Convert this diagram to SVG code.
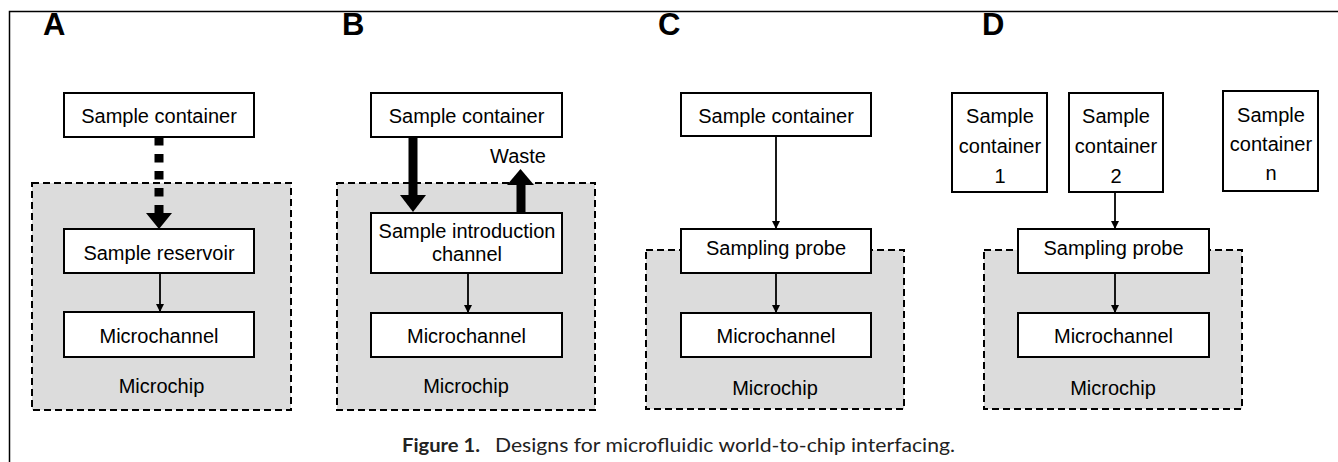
<svg xmlns="http://www.w3.org/2000/svg" width="1338" height="462" viewBox="0 0 1338 462">
<style>
  .box { fill: #ffffff; stroke: #000000; stroke-width: 2; }
  .chip { fill: #dcdcdc; stroke: #000000; stroke-width: 2; stroke-dasharray: 7 4; }
  .t { font-family: "Liberation Sans", Arial, sans-serif; font-size: 20px; fill: #000000; text-anchor: middle; }
  .lbl { font-family: "Liberation Sans", Arial, sans-serif; font-size: 31px; font-weight: bold; fill: #000000; }
  .thin { stroke: #000000; stroke-width: 1.8; fill: none; marker-end: url(#ah); }
  .frame { stroke: #000000; stroke-width: 1.5; fill: none; }
  .cap { font-family: Lato, "Open Sans", sans-serif; font-size: 18.5px; fill: #222222; }
</style>
<defs>
  <marker id="ah" markerUnits="userSpaceOnUse" markerWidth="8" markerHeight="8" refX="8" refY="4" orient="auto">
    <path d="M0,0 L8,4 L0,8 z" fill="#000000"/>
  </marker>
</defs>

<path class="frame" d="M9.5,462 L9.5,11.5 L1338,11.5"/>

<text class="lbl" x="43" y="35">A</text>
<text class="lbl" x="342" y="35">B</text>
<text class="lbl" x="658" y="35">C</text>
<text class="lbl" x="982" y="35">D</text>

<!-- chips (background) -->
<g id="chipA"><rect class="chip" x="32" y="183" width="259" height="227"/><text class="t" x="161.5" y="393">Microchip</text></g>
<g id="chipB"><rect class="chip" x="337" y="183" width="258" height="227"/><text class="t" x="466" y="393">Microchip</text></g>
<g id="chipC"><rect class="chip" x="646" y="250" width="258" height="159"/><text class="t" x="775" y="395">Microchip</text></g>
<g id="chipD"><rect class="chip" x="984" y="250" width="258" height="159"/><text class="t" x="1113" y="395">Microchip</text></g>

<g id="connectors">
  <!-- A dotted thick arrow -->
  <line x1="159" y1="137" x2="159" y2="213.5" stroke="#000" stroke-width="9" stroke-dasharray="8.5 8.5"/>
  <polygon points="146,213 172,213 159,229" fill="#000"/>
  <line class="thin" x1="160" y1="273" x2="160" y2="312"/>
  <!-- B thick arrows -->
  <line x1="413" y1="137" x2="413" y2="196" stroke="#000" stroke-width="9"/>
  <polygon points="400,195 426,195 413,212" fill="#000"/>
  <line x1="521" y1="213" x2="521" y2="184" stroke="#000" stroke-width="9"/>
  <polygon points="507,185 534,185 520.5,169" fill="#000"/>
  <line class="thin" x1="468" y1="273" x2="468" y2="313"/>
  <!-- C -->
  <line class="thin" x1="776" y1="137" x2="776" y2="229"/>
  <line class="thin" x1="776" y1="273" x2="776" y2="313"/>
  <!-- D -->
  <line class="thin" x1="1115" y1="192" x2="1115" y2="229"/>
  <line class="thin" x1="1115" y1="273" x2="1115" y2="313"/>
</g>

<!-- A -->
<g id="A_container"><rect class="box" x="64" y="93" width="190" height="44"/><text class="t" x="159" y="123">Sample container</text></g>
<g id="A_reservoir"><rect class="box" x="64" y="229" width="190" height="44"/><text class="t" x="159" y="260">Sample reservoir</text></g>
<g id="A_microchannel"><rect class="box" x="64" y="312" width="190" height="45"/><text class="t" x="159" y="343">Microchannel</text></g>

<!-- B -->
<g id="B_container"><rect class="box" x="371" y="93" width="191" height="44"/><text class="t" x="466.5" y="123">Sample container</text></g>
<text id="B_waste" class="t" x="518" y="163">Waste</text>
<g id="B_intro"><rect class="box" x="371" y="213" width="191" height="60"/><text class="t" x="467" y="238">Sample introduction</text><text class="t" x="467" y="261">channel</text></g>
<g id="B_microchannel"><rect class="box" x="371" y="313" width="191" height="44"/><text class="t" x="466.5" y="343">Microchannel</text></g>

<!-- C -->
<g id="C_container"><rect class="box" x="681" y="93" width="190" height="43"/><text class="t" x="776" y="123">Sample container</text></g>
<g id="C_probe"><rect class="box" x="681" y="229" width="190" height="44"/><text class="t" x="776" y="255">Sampling probe</text></g>
<g id="C_microchannel"><rect class="box" x="681" y="313" width="190" height="44"/><text class="t" x="776" y="343">Microchannel</text></g>

<!-- D -->
<g id="D_container1"><rect class="box" x="952" y="93" width="95" height="99"/><text class="t" x="1000" y="123">Sample</text><text class="t" x="1000" y="153">container</text><text class="t" x="1000" y="183">1</text></g>
<g id="D_container2"><rect class="box" x="1069" y="93" width="94" height="99"/><text class="t" x="1116" y="123">Sample</text><text class="t" x="1116" y="153">container</text><text class="t" x="1116" y="183">2</text></g>
<g id="D_containern"><rect class="box" x="1223" y="91" width="95" height="100"/><text class="t" x="1271" y="122">Sample</text><text class="t" x="1271" y="151">container</text><text class="t" x="1271" y="180">n</text></g>
<g id="D_probe"><rect class="box" x="1018" y="229" width="191" height="44"/><text class="t" x="1113.5" y="255">Sampling probe</text></g>
<g id="D_microchannel"><rect class="box" x="1018" y="313" width="191" height="44"/><text class="t" x="1113.5" y="343">Microchannel</text></g>

<text class="cap" x="402" y="452" font-weight="bold" textLength="78" lengthAdjust="spacingAndGlyphs">Figure 1.</text>
<text class="cap" x="495" y="452" textLength="460" lengthAdjust="spacingAndGlyphs">Designs for microfluidic world-to-chip interfacing.</text>
</svg>
